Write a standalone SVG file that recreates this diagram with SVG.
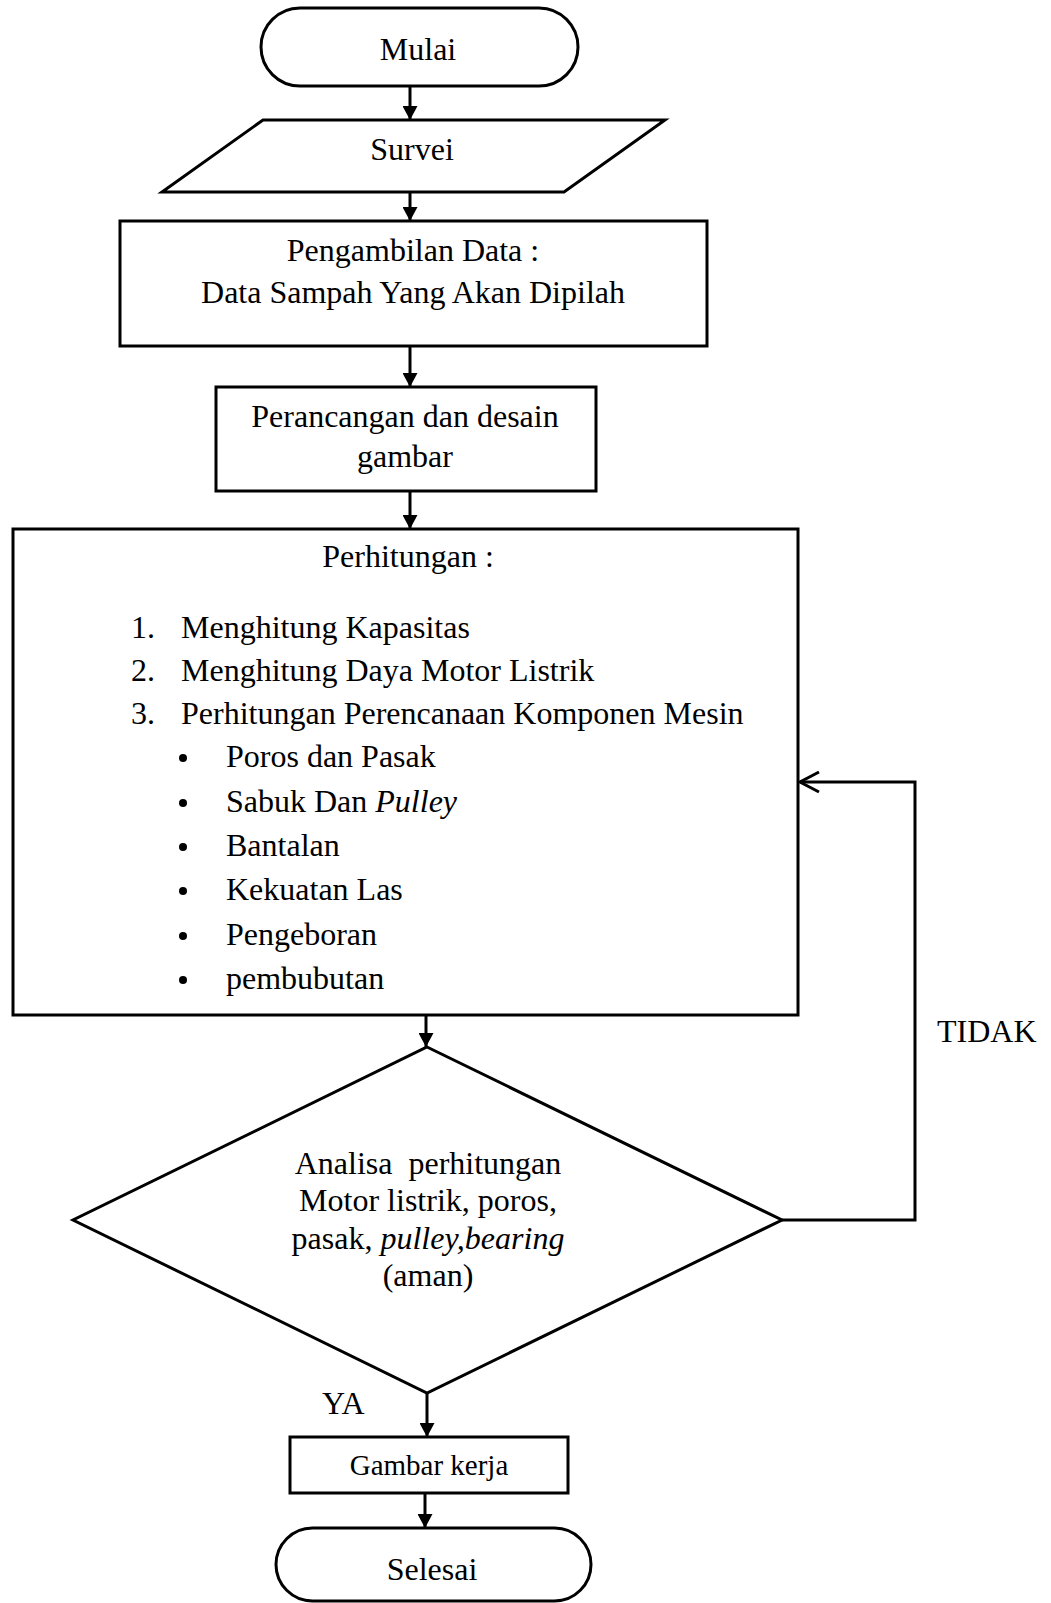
<svg xmlns="http://www.w3.org/2000/svg" width="1051" height="1603" viewBox="0 0 1051 1603">
<style>
.s{fill:#fff;stroke:#000;stroke-width:3;stroke-linejoin:miter}
.t{font-family:"Liberation Serif","Times New Roman",serif;font-size:32px;fill:#000}
.c{text-anchor:middle}
.l{fill:none;stroke:#000;stroke-width:3}
</style>
<defs>
<marker id="ah" markerWidth="15" markerHeight="15" refX="14" refY="7.5" orient="auto" markerUnits="userSpaceOnUse">
<path d="M0,0 L14,7.5 L0,15 Z" fill="#000"/>
</marker>
</defs>
<rect width="1051" height="1603" fill="#fff"/>
<g id="connectors">
<line class="l" x1="410" y1="86" x2="410" y2="120" marker-end="url(#ah)"/>
<line class="l" x1="410" y1="192" x2="410" y2="221" marker-end="url(#ah)"/>
<line class="l" x1="410" y1="346" x2="410" y2="387" marker-end="url(#ah)"/>
<line class="l" x1="410" y1="491" x2="410" y2="529" marker-end="url(#ah)"/>
<line class="l" x1="426" y1="1015" x2="426" y2="1047" marker-end="url(#ah)"/>
<line class="l" x1="427" y1="1393" x2="427" y2="1437" marker-end="url(#ah)"/>
<line class="l" x1="425" y1="1493" x2="425" y2="1528" marker-end="url(#ah)"/>
<polyline class="l" points="782,1220 915,1220 915,782 800,782"/>
<polyline class="l" points="819,772 800,782 819,792"/>
<text class="t" x="937" y="1042">TIDAK</text>
<text class="t" x="322" y="1414">YA</text>
</g>
<g id="mulai">
<rect class="s" x="261" y="8" width="317" height="78" rx="39" ry="39"/>
<text class="t c" x="418" y="60">Mulai</text>
</g>
<g id="survei">
<polygon class="s" points="263,120 665,120 564,192 162,192"/>
<text class="t c" x="412" y="160">Survei</text>
</g>
<g id="pengambilan">
<rect class="s" x="120" y="221" width="587" height="125"/>
<text class="t c" x="413" y="261">Pengambilan Data :</text>
<text class="t c" x="413" y="303">Data Sampah Yang Akan Dipilah</text>
</g>
<g id="perancangan">
<rect class="s" x="216" y="387" width="380" height="104"/>
<text class="t c" x="405" y="427">Perancangan dan desain</text>
<text class="t c" x="405" y="467">gambar</text>
</g>
<g id="perhitungan">
<rect class="s" x="13" y="529" width="785" height="486"/>
<text class="t c" x="408" y="567">Perhitungan :</text>
<text class="t" x="131" y="638">1.</text>
<text class="t" x="181" y="638">Menghitung Kapasitas</text>
<text class="t" x="131" y="681">2.</text>
<text class="t" x="181" y="681">Menghitung Daya Motor Listrik</text>
<text class="t" x="131" y="724">3.</text>
<text class="t" x="181" y="724">Perhitungan Perencanaan Komponen Mesin</text>
<circle cx="183" cy="758" r="4"/>
<text class="t" x="226" y="767">Poros dan Pasak</text>
<circle cx="183" cy="803" r="4"/>
<text class="t" x="226" y="812">Sabuk Dan <tspan font-style="italic">Pulley</tspan></text>
<circle cx="183" cy="847" r="4"/>
<text class="t" x="226" y="856">Bantalan</text>
<circle cx="183" cy="891" r="4"/>
<text class="t" x="226" y="900">Kekuatan Las</text>
<circle cx="183" cy="936" r="4"/>
<text class="t" x="226" y="945">Pengeboran</text>
<circle cx="183" cy="980" r="4"/>
<text class="t" x="226" y="989">pembubutan</text>
</g>
<g id="analisa">
<polygon class="s" points="427,1047 782,1220 427,1393 73,1220"/>
<text class="t c" x="428" y="1174" xml:space="preserve">Analisa  perhitungan</text>
<text class="t c" x="428" y="1211">Motor listrik, poros,</text>
<text class="t c" x="428" y="1249">pasak, <tspan font-style="italic">pulley,bearing</tspan></text>
<text class="t c" x="428" y="1286">(aman)</text>
</g>
<g id="gambar-kerja">
<rect class="s" x="290" y="1437" width="278" height="56"/>
<text class="t c" x="429" y="1475" style="font-size:29px">Gambar kerja</text>
</g>
<g id="selesai">
<rect class="s" x="276" y="1528" width="315" height="73" rx="36.5" ry="36.5"/>
<text class="t c" x="432" y="1580">Selesai</text>
</g>
</svg>
